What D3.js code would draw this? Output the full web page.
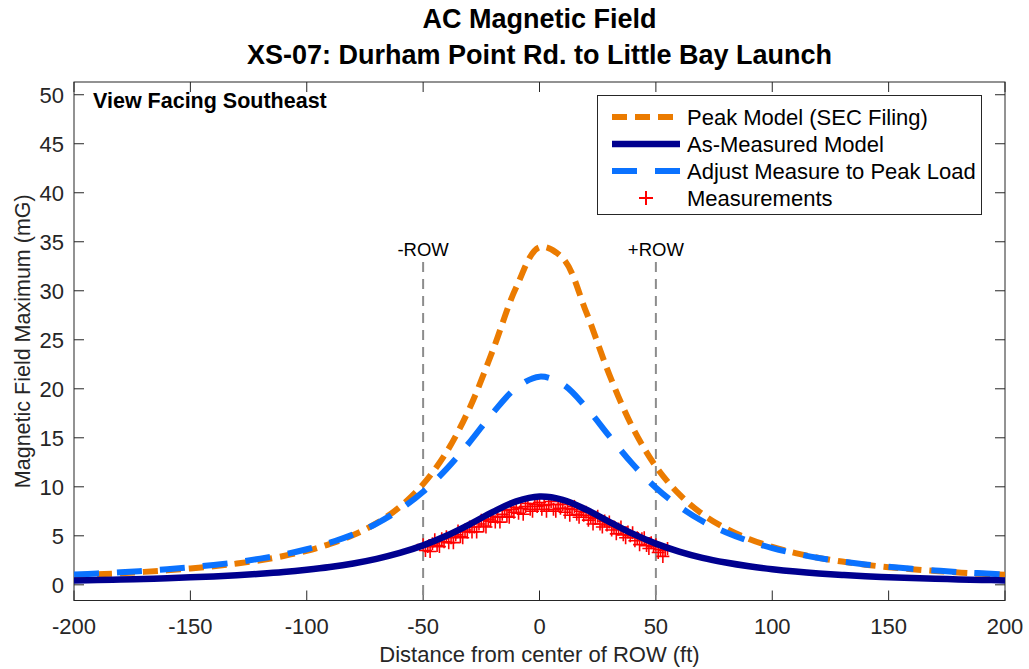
<!DOCTYPE html>
<html><head><meta charset="utf-8">
<script src="https://cdn.jsdelivr.net/npm/d3@7"></script>
<style>
body{margin:0;background:#fff;}
svg{display:block;font-family:"Liberation Sans",Arial,Helvetica,sans-serif;}
</style></head>
<body><svg id="c" width="1029" height="669"></svg>
<script>
// ---- data ----
const xGrid = [-200,-190,-180,-170,-160,-150,-140,-130,-120,-110,-100,-90,-80,-70,-60,-50,-40,-30,-20,-10,0,10,20,30,40,50,60,70,80,90,100,110,120,130,140,150,160,170,180,190,200];
const peakModel = [0.97,1.07,1.18,1.32,1.48,1.67,1.89,2.17,2.51,2.94,3.47,4.17,5.08,6.29,7.95,10.27,13.52,18.05,23.96,30.35,34.44,33.32,27.87,21.45,16.06,12.08,9.25,7.22,5.76,4.68,3.87,3.24,2.75,2.37,2.05,1.80,1.59,1.41,1.26,1.13,1.02];
const asMeasured = [0.44,0.49,0.54,0.60,0.67,0.76,0.86,0.98,1.13,1.31,1.54,1.82,2.18,2.65,3.25,4.02,5.00,6.17,7.44,8.51,9.00,8.67,7.68,6.43,5.22,4.20,3.39,2.75,2.27,1.89,1.59,1.35,1.16,1.01,0.88,0.78,0.69,0.62,0.55,0.50,0.45];
const adjusted = [1.04,1.16,1.27,1.42,1.58,1.79,2.03,2.31,2.67,3.09,3.63,4.30,5.14,6.25,7.67,9.49,11.80,14.56,17.56,20.08,21.24,20.46,18.12,15.17,12.32,9.91,8.00,6.49,5.36,4.46,3.75,3.19,2.74,2.38,2.08,1.84,1.63,1.46,1.30,1.18,1.06];
const measX = [-50,-49,-48,-47,-46,-45,-44,-43,-42,-41,-40,-39,-38,-37,-36,-35,-34,-33,-32,-31,-30,-29,-28,-27,-26,-25,-24,-23,-22,-21,-20,-19,-18,-17,-16,-15,-14,-13,-12,-11,-10,-9,-8,-7,-6,-5,-4,-3,-2,-1,0,1,2,3,4,5,6,7,8,9,10,11,12,13,14,15,16,17,18,19,20,21,22,23,24,25,26,27,28,29,30,31,32,33,34,35,36,37,38,39,40,41,42,43,44,45,46,47,48,49,50,51,52,53,54,55];
const measY = [4.1,3.5,3.9,3.4,4.2,4.6,4.0,3.9,4.7,4.4,4.9,4.3,4.8,4.3,5.1,5.5,4.9,4.8,5.6,5.4,5.9,5.4,5.9,5.4,6.2,6.6,6.0,5.9,6.7,6.5,7.0,6.4,6.9,6.4,7.2,7.6,7.0,6.9,7.7,7.4,7.9,7.3,7.8,7.2,8.0,8.3,7.7,7.5,8.2,8.0,8.4,7.7,8.1,7.5,8.2,8.5,7.7,7.5,8.2,7.8,8.2,7.4,7.8,7.1,7.7,8.0,7.2,6.9,7.5,7.1,7.4,6.6,6.9,6.2,6.8,7.0,6.2,5.9,6.5,6.1,6.4,5.6,5.9,5.2,5.7,5.9,5.1,4.8,5.4,5.0,5.3,4.5,4.8,4.1,4.7,4.8,4.0,3.7,4.3,3.9,4.1,3.3,3.6,2.9,3.5,3.7];
const xTicks = [-200,-150,-100,-50,0,50,100,150,200];
const yTicks = [0,5,10,15,20,25,30,35,40,45,50];
const rowLines = [{x:-50,label:"-ROW"},{x:50,label:"+ROW"}];
const titleLines = ["AC Magnetic Field","XS-07: Durham Point Rd. to Little Bay Launch"];
const legendItems = ["Peak Model (SEC Filing)","As-Measured Model","Adjust Measure to Peak Load","Measurements"];

const C_OR="#EB7B00", C_NAVY="#00008F", C_BLUE="#0A72FF", C_RED="#FF0000", C_AX="#262626";

const svg = d3.select("#c");
const L=74, R=1005, T=82, B=600.5;
const x = d3.scaleLinear().domain([-200,200]).range([L,R]);
const y = d3.scaleLinear().domain([-1.6,51.3]).range([B,T]);

svg.append("defs").append("clipPath").attr("id","clip")
  .append("rect").attr("x",L).attr("y",T).attr("width",R-L).attr("height",B-T);

// axis box
svg.append("rect").attr("x",L).attr("y",T).attr("width",R-L).attr("height",B-T)
  .attr("fill","none").attr("stroke",C_AX).attr("stroke-width",1);

// ticks (inward), all four sides
const tk = svg.append("g").attr("stroke",C_AX).attr("stroke-width",1);
xTicks.forEach(v=>{
  tk.append("line").attr("x1",x(v)).attr("x2",x(v)).attr("y1",B).attr("y2",B-10);
  tk.append("line").attr("x1",x(v)).attr("x2",x(v)).attr("y1",T).attr("y2",T+10);
});
yTicks.forEach(v=>{
  tk.append("line").attr("x1",L).attr("x2",L+10).attr("y1",y(v)).attr("y2",y(v));
  tk.append("line").attr("x1",R).attr("x2",R-10).attr("y1",y(v)).attr("y2",y(v));
});
// tick labels
svg.append("g").selectAll("text").data(xTicks).join("text")
  .attr("x",d=>x(d)).attr("y",634).attr("text-anchor","middle")
  .attr("font-size",22).attr("fill",C_AX).text(d=>d);
svg.append("g").selectAll("text").data(yTicks).join("text")
  .attr("x",64).attr("y",d=>y(d)+8).attr("text-anchor","end")
  .attr("font-size",22).attr("fill",C_AX).text(d=>d);

// axis labels
svg.append("text").attr("x",(L+R)/2).attr("y",662).attr("text-anchor","middle")
  .attr("font-size",22).attr("fill",C_AX).text("Distance from center of ROW (ft)");
svg.append("text").attr("transform",`translate(30,${(T+B)/2}) rotate(-90)`).attr("text-anchor","middle")
  .attr("font-size",21.5).attr("fill",C_AX).text("Magnetic Field Maximum (mG)");

// title
svg.append("g").selectAll("text").data(titleLines).join("text")
  .attr("x",(L+R)/2).attr("y",(d,i)=>28+i*36).attr("text-anchor","middle")
  .attr("font-size",27).attr("font-weight","bold").attr("fill","#000").text(d=>d);

// ROW lines
const rowG = svg.append("g");
rowLines.forEach(r=>{
  rowG.append("line").attr("x1",x(r.x)).attr("x2",x(r.x)).attr("y1",262).attr("y2",B)
    .attr("stroke","#8c8c8c").attr("stroke-width",2).attr("stroke-dasharray","10,7");
  rowG.append("text").attr("x",x(r.x)).attr("y",256).attr("text-anchor","middle")
    .attr("font-size",18.5).attr("fill","#000").text(r.label);
});

// curves
const plot = svg.append("g").attr("clip-path","url(#clip)");
const line = d3.line().x((d,i)=>x(xGrid[i])).y(d=>y(d)).curve(d3.curveCatmullRom.alpha(0.5));
plot.append("path").attr("d",line(peakModel)).attr("fill","none")
  .attr("stroke",C_OR).attr("stroke-width",6).attr("stroke-dasharray","15,8");
plot.append("path").attr("d",line(adjusted)).attr("fill","none")
  .attr("stroke",C_BLUE).attr("stroke-width",6).attr("stroke-dasharray","25,18");

// measurements (+ markers)
const mg = plot.append("g").attr("stroke",C_RED).attr("stroke-width",1.6);
measX.forEach((mx,i)=>{
  const cx=x(mx), cy=y(measY[i]), h=6.5;
  mg.append("line").attr("x1",cx).attr("x2",cx).attr("y1",cy-h).attr("y2",cy+h);
  mg.append("line").attr("x1",cx-h).attr("x2",cx+h).attr("y1",cy).attr("y2",cy);
});
plot.append("path").attr("d",line(asMeasured)).attr("fill","none")
  .attr("stroke",C_NAVY).attr("stroke-width",6.5);

// annotation
svg.append("text").attr("x",93).attr("y",108).attr("font-size",21.5).attr("font-weight","bold")
  .attr("fill","#000").text("View Facing Southeast");

// legend
const lg = svg.append("g");
lg.append("rect").attr("x",597.5).attr("y",95.5).attr("width",384).attr("height",119)
  .attr("fill","#fff").attr("stroke",C_AX).attr("stroke-width",1);
const rowsY=[117,144,171,198];
const styles=[{c:C_OR,w:6,d:"15,8"},{c:C_NAVY,w:6.5,d:null},{c:C_BLUE,w:6,d:"25,18"}];
styles.forEach((s,i)=>{
  const l=lg.append("line").attr("x1",612).attr("x2",680).attr("y1",rowsY[i]).attr("y2",rowsY[i])
    .attr("stroke",s.c).attr("stroke-width",s.w);
  if(s.d) l.attr("stroke-dasharray",s.d);
});
lg.append("line").attr("x1",646).attr("x2",646).attr("y1",rowsY[3]-7).attr("y2",rowsY[3]+7).attr("stroke",C_RED).attr("stroke-width",2);
lg.append("line").attr("x1",639).attr("x2",653).attr("y1",rowsY[3]).attr("y2",rowsY[3]).attr("stroke",C_RED).attr("stroke-width",2);
lg.selectAll("text.li").data(legendItems).join("text").attr("class","li")
  .attr("x",687).attr("y",(d,i)=>rowsY[i]+8).attr("font-size",22).attr("fill","#000").text(d=>d);
</script></body></html>
